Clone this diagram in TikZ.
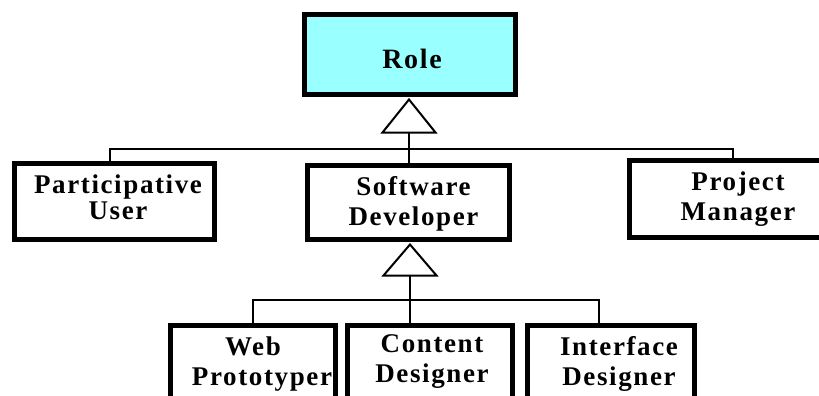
\documentclass[tikz,border=0pt]{standalone}
\usepackage{fontspec}
\setmainfont{Liberation Serif}[LetterSpace=6]
\usetikzlibrary{calc}
\definecolor{rolecyan}{HTML}{99FFFF}
\begin{document}
\begin{tikzpicture}[x=1pt,y=-1pt,
  box/.style={draw=black, line width=5pt, inner sep=0pt, fill=white},
  txt/.style={inner sep=0pt, align=center, font=\bfseries\fontsize{27}{30}\selectfont},
  conn/.style={draw=black, line width=2pt},
  gen/.style={draw=black, line width=2pt, fill=white, line join=miter}]
\useasboundingbox (0,0) rectangle (819,396);
% boxes
\node[box, fill=rolecyan, minimum width=211pt, minimum height=80pt] (role) at (410,54.5) {};
\node[box, minimum width=200pt, minimum height=76pt] (pu) at (114.5,201.5) {};
\node[box, minimum width=202pt, minimum height=74pt] (sd) at (408.5,202.5) {};
\node[box, minimum width=217pt, minimum height=77pt] (pm) at (738,199) {};
\node[box, minimum width=165pt, minimum height=80pt] (wp) at (253,365.5) {};
\node[box, minimum width=165pt, minimum height=80pt] (cd) at (430,365.5) {};
\node[box, minimum width=167pt, minimum height=80pt] (id) at (611,365.5) {};
% texts
\node[txt, font=\bfseries\fontsize{28}{30}\selectfont] (role-t) at ($(role)+(2,4)$) {Role};
\node[txt, font=\bfseries\fontsize{27}{26}\selectfont] (pu-t) at ($(pu)+(3.5,-4)$) {Participative\\User};
\node[txt] (sd-t) at ($(sd)+(5,1)$) {Software\\Developer};
\node[txt] (pm-t) at ($(pm)+(0,0)$) {Project\\Manager};
\node[txt] (wp-t) at ($(wp)+(0,-1)$) {Web\\\hspace*{18pt}Prototyper};
\node[txt] (cd-t) at ($(cd)+(2,-4)$) {Content\\Designer};
\node[txt] (id-t) at ($(id)+(8,-2)$) {Interface\\Designer};
% generalization 1
\coordinate (a1) at ([xshift=-1pt,yshift=-2.5pt]role.south);
\coordinate (l1) at ($(a1)+(-26.5,33)$);
\coordinate (r1) at ($(a1)+(26.5,33)$);
\coordinate (b1) at ($(a1)+(0,33)$);
\coordinate (j1) at ($(a1)+(0,49)$);
\draw[conn] (b1) -- ([xshift=0.5pt]sd.north);
\draw[conn] ([xshift=-4.5pt]pu.north) |- (j1) -| ([xshift=-5pt]pm.north);
\draw[gen] (a1) -- (l1) -- (r1) -- cycle;
% generalization 2
\coordinate (a2) at ([xshift=1.5pt,yshift=-2.5pt]sd.south);
\coordinate (l2) at ($(a2)+(-26.5,31)$);
\coordinate (r2) at ($(a2)+(26.5,31)$);
\coordinate (b2) at ($(a2)+(0,31)$);
\coordinate (j2) at ($(a2)+(0,55)$);
\draw[conn] (b2) -- ([xshift=-20pt]cd.north);
\draw[conn] (wp.north) |- (j2) -| ([xshift=-12pt]id.north);
\draw[gen] (a2) -- (l2) -- (r2) -- cycle;
\end{tikzpicture}
\end{document}
